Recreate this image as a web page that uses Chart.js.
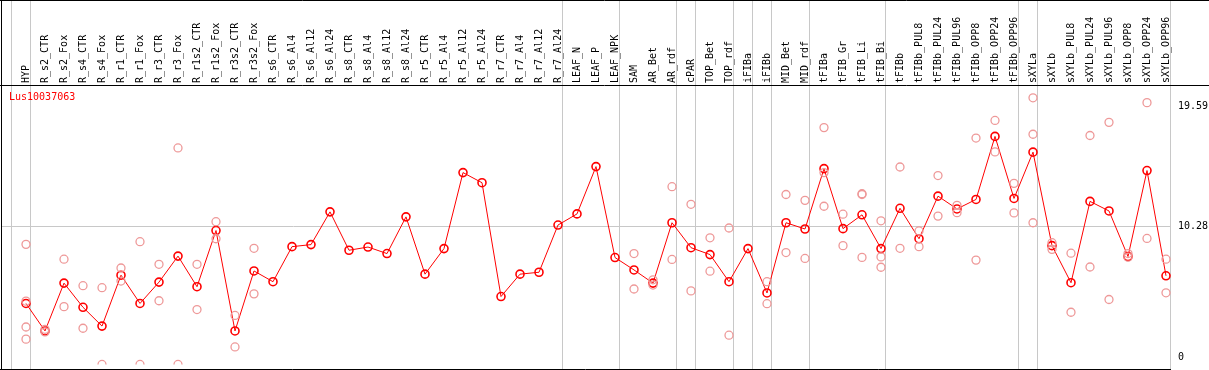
<!DOCTYPE html>
<html>
<head>
<meta charset="utf-8">
<script src="https://cdn.jsdelivr.net/npm/chart.js@4/dist/chart.umd.min.js"></script>
<style>
  html, body { margin: 0; padding: 0; background: #fff; }
  #wrap { width: 1209px; height: 370px; }
</style>
</head>
<body>
<div id="wrap"><canvas id="chart" width="1209" height="370"></canvas></div>
<script>
// --- DATA ---
const categories = [
    'HYP', 'R_s2_CTR', 'R_s2_Fox', 'R_s4_CTR', 'R_s4_Fox', 'R_r1_CTR', 'R_r1_Fox', 'R_r3_CTR', 'R_r3_Fox',
    'R_r1s2_CTR', 'R_r1s2_Fox', 'R_r3s2_CTR', 'R_r3s2_Fox', 'R_s6_CTR', 'R_s6_Al4', 'R_s6_Al12', 'R_s6_Al24',
    'R_s8_CTR', 'R_s8_Al4', 'R_s8_Al12', 'R_s8_Al24', 'R_r5_CTR', 'R_r5_Al4', 'R_r5_Al12', 'R_r5_Al24',
    'R_r7_CTR', 'R_r7_Al4', 'R_r7_Al12', 'R_r7_Al24', 'LEAF_N', 'LEAF_P', 'LEAF_NPK', 'SAM', 'AR_Bet', 'AR_rdf',
    'cPAR', 'TOP_Bet', 'TOP_rdf', 'iFIBa', 'iFIBb', 'MID_Bet', 'MID_rdf', 'tFIBa', 'tFIB_Gr', 'tFIB_Li', 'tFIB_Bi',
    'tFIBb', 'tFIBb_PUL8', 'tFIBb_PUL24', 'tFIBb_PUL96', 'tFIBb_OPP8', 'tFIBb_OPP24', 'tFIBb_OPP96',
    'sXYLa', 'sXYLb', 'sXYLb_PUL8', 'sXYLb_PUL24', 'sXYLb_PUL96', 'sXYLb_OPP8', 'sXYLb_OPP24', 'sXYLb_OPP96'
];

// mean expression per sample (the red line)
const meanValues = [
    4.22, 2.07, 5.81, 3.92, 2.45, 6.43, 4.22, 5.89, 7.92,
    5.53, 9.92, 2.07, 6.76, 5.92, 8.66, 8.82, 11.38,
    8.38, 8.63, 8.12, 10.99, 6.51, 8.51, 14.45, 13.66,
    4.76, 6.51, 6.66, 10.35, 11.22, 14.92, 7.81, 6.84, 5.81, 10.53,
    8.58, 8.04, 5.92, 8.51, 5.04, 10.53, 10.04, 14.76, 10.07, 11.15, 8.51,
    11.66, 9.28, 12.61, 11.61, 12.35, 17.28, 12.43,
    16.05, 8.74, 5.84, 12.2, 11.45, 7.89, 14.61, 6.38
];

// individual replicates (light circles), empty where none are shown
const replicateValues = [
    [8.84, 4.40, 2.38, 1.43], [2.2, 2.0], [7.68, 3.97], [5.61, 2.28], [5.45, -0.55], [6.99, 5.97], [9.05, -0.55], [7.28, 4.43], [16.38, -0.55],
    [7.28, 3.74], [10.61, 9.28], [3.28, 0.82], [8.53, 4.97], [], [], [], [],
    [], [], [], [], [], [], [], [],
    [], [], [], [], [], [], [], [8.12, 5.35], [6.07, 5.66], [13.35, 7.66],
    [11.97, 5.2], [9.35, 6.74], [10.12, 1.74], [], [5.92, 4.2], [12.74, 8.2], [12.28, 7.74], [17.97, 14.45, 11.82], [11.2, 8.74], [12.74, 12.8, 7.82], [10.68, 7.86, 7.05],
    [14.89, 8.53], [9.89, 8.66], [14.22, 11.05], [11.89, 11.32], [17.15, 7.61], [18.53, 16.07], [13.61, 11.3],
    [20.3, 17.45, 10.53], [8.97, 8.45], [8.15, 3.53], [17.35, 7.07], [18.38, 4.53], [8.12, 7.84], [19.92, 9.3], [7.68, 5.05]
];

// index of the last sample in each block (a separator is drawn after it); -1 = before the first
const groupEnds = [-1, 0, 28, 31, 34, 35, 37, 38, 39, 41, 45, 52, 53, 60];

const yTicks = [0, 10.28, 19.59];
const gridValues = [10.28];
const geneName = 'Lus10037063';

// --- DATASET BUILD ---
const replicatePoints = [];
replicateValues.forEach((reps, i) => {
    reps.forEach(v => replicatePoints.push({ x: categories[i], y: v }));
});

const MONO = '"DejaVu Sans Mono", "Liberation Mono", monospace';

// draws header labels, separators, borders, tick labels, title
const decorPlugin = {
    id: 'decor',
    beforeDatasetsDraw(chart) {
        const ctx = chart.ctx;
        const xs = chart.scales.x;
        const ys = chart.scales.y;
        const step = xs.getPixelForValue(1) - xs.getPixelForValue(0);
        ctx.save();

        // horizontal grid
        ctx.strokeStyle = '#c8c8c8';
        ctx.lineWidth = 1;
        gridValues.forEach(v => {
            const y = Math.round(ys.getPixelForValue(v)) + 0.5;
            ctx.beginPath();
            ctx.moveTo(1, y);
            ctx.lineTo(1171, y);
            ctx.stroke();
        });

        // group separators
        groupEnds.forEach(i => {
            const x = Math.round(xs.getPixelForValue(0) + i * step + 4.3) + 0.5;
            ctx.beginPath();
            ctx.moveTo(x, 0);
            ctx.lineTo(x, 369);
            ctx.stroke();
        });

        // frame
        ctx.strokeStyle = '#000';
        ctx.beginPath();
        ctx.moveTo(0, 0.5); ctx.lineTo(1209, 0.5);
        ctx.moveTo(0, 85.5); ctx.lineTo(1209, 85.5);
        ctx.moveTo(1.5, 0); ctx.lineTo(1.5, 370);
        ctx.moveTo(0, 369.5); ctx.lineTo(1171, 369.5);
        ctx.stroke();

        // sample labels (rotated)
        ctx.fillStyle = '#000';
        ctx.font = '10px ' + MONO;
        ctx.textAlign = 'left';
        ctx.textBaseline = 'middle';
        categories.forEach((c, i) => {
            const x = xs.getPixelForValue(i);
            ctx.save();
            ctx.translate(x, 83);
            ctx.rotate(-Math.PI / 2);
            ctx.fillText(c, 0, 0);
            ctx.restore();
        });

        // right tick labels
        yTicks.forEach(v => {
            ctx.fillText(String(v), 1178, ys.getPixelForValue(v));
        });

        // gene name
        ctx.fillStyle = '#ff0000';
        ctx.textBaseline = 'alphabetic';
        ctx.fillText(geneName, 9, 100);
        ctx.restore();
    }
};

new Chart(document.getElementById('chart'), {
    type: 'line',
    data: {
        labels: categories,
        datasets: [
            {
                label: 'replicates',
                data: replicatePoints,
                showLine: false,
                pointStyle: 'circle',
                pointRadius: 4,
                pointBorderWidth: 1.3,
                pointBorderColor: '#ee9999',
                pointBackgroundColor: 'rgba(255,255,255,0)',
                clip: { left: false, top: false, right: false, bottom: 0 }
            },
            {
                label: geneName,
                data: meanValues,
                borderColor: '#ff0000',
                borderWidth: 1,
                pointStyle: 'circle',
                pointRadius: 4,
                pointBorderWidth: 1.6,
                pointBorderColor: '#ff0000',
                pointBackgroundColor: 'rgba(255,255,255,0)',
                tension: 0
            }
        ]
    },
    options: {
        responsive: false,
        animation: false,
        devicePixelRatio: 1,
        layout: { padding: { left: 16.5, right: 33.5, top: 85, bottom: 1 } },
        plugins: { legend: { display: false }, tooltip: { enabled: false } },
        scales: {
            x: { type: 'category', offset: true, display: false },
            y: { min: -0.546, max: 21.3, display: false }
        }
    },
    plugins: [decorPlugin]
});
</script>
</body>
</html>
